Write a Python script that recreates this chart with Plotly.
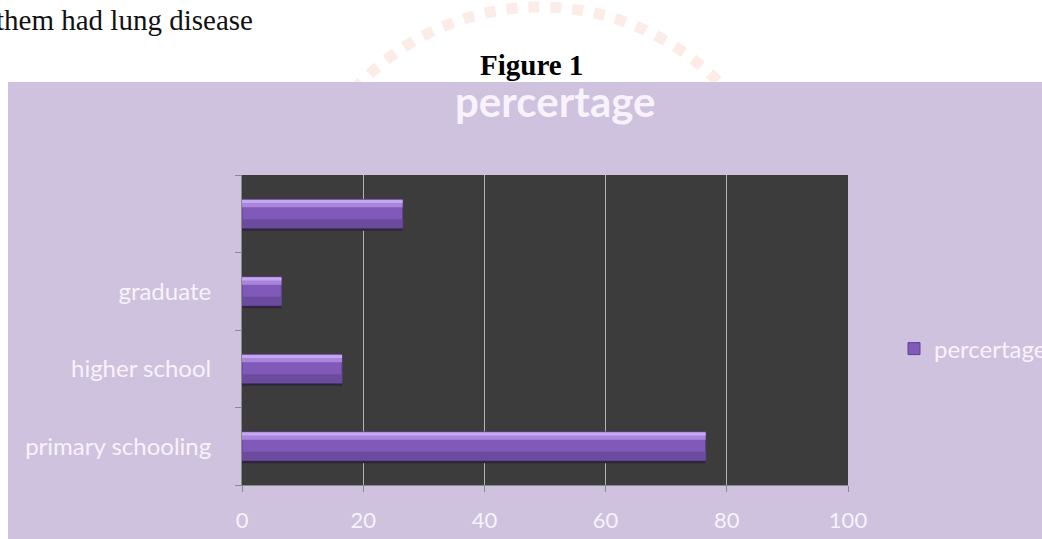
import plotly.graph_objects as go

categories = ["primary schooling", "higher school", "graduate", " "]
values = [76.5, 16.5, 6.5, 26.5]
x_ticks = [0, 20, 40, 60, 80, 100]
series_name = "percertage"

W_PX, H_PX = 1042, 539
L, R, T, B = 242, 194, 175, 54
PW = W_PX - L - R
PH = H_PX - T - B


def px(x):
    return (x - L) / PW


def py(y):
    return (H_PX - B - y) / PH


TXT = "#f7f2fb"
LAV = "#cfc2de"

fig = go.Figure()
# shadow
fig.add_trace(go.Bar(y=categories, x=values, orientation="h", width=0.40, offset=-0.22,
                     marker=dict(color="#2e2638", line_width=0), showlegend=False, hoverinfo="skip"))
# main bar
fig.add_trace(go.Bar(y=categories, x=values, orientation="h", width=0.37, offset=-0.185,
                     name=series_name,
                     marker=dict(color="#8059b9", line=dict(color="#5e4192", width=1))))
# lower darker band
fig.add_trace(go.Bar(y=categories, x=values, orientation="h", width=0.11, offset=-0.18,
                     marker=dict(color="#6a4b9e", line_width=0), showlegend=False, hoverinfo="skip"))
# top highlight
fig.add_trace(go.Bar(y=categories, x=values, orientation="h", width=0.09, offset=0.085,
                     marker=dict(color="#a886db", line_width=0), showlegend=False, hoverinfo="skip"))
fig.add_trace(go.Bar(y=categories, x=values, orientation="h", width=0.04, offset=0.14,
                     marker=dict(color="#c6a6f0", line_width=0), showlegend=False, hoverinfo="skip"))

shapes = [
    # watermark rope
    dict(type="circle", xref="paper", yref="paper", layer="below",
         x0=px(540 - 250), x1=px(540 + 250), y0=py(7 + 500), y1=py(7),
         line=dict(color="rgba(240,160,135,0.20)", width=11, dash="dot"), fillcolor="rgba(0,0,0,0)"),
    # chart area
    dict(type="rect", xref="paper", yref="paper", layer="below",
         x0=px(8), x1=px(1060), y0=py(560), y1=py(82),
         line_width=0, fillcolor=LAV),
    # plot area
    dict(type="rect", xref="x domain", yref="y domain", layer="below",
         x0=0, x1=1, y0=0, y1=1, line_width=0, fillcolor="#3d3c3d"),
]

annotations = [
    dict(text="them had lung disease", xref="paper", yref="paper", x=px(-6), y=py(20),
         xanchor="left", yanchor="middle", showarrow=False,
         font=dict(family="Liberation Serif", size=29, color="#111111")),
    dict(text="<b>Figure 1</b>", xref="paper", yref="paper", x=px(531), y=py(65),
         xanchor="center", yanchor="middle", showarrow=False,
         font=dict(family="Liberation Serif", size=29, color="#000000")),
    dict(text="<b>percertage</b>", xref="paper", yref="paper", x=px(555), y=py(101),
         xanchor="center", yanchor="middle", showarrow=False,
         font=dict(family="Lato", size=42, color=TXT)),
]

fig.update_layout(
    width=W_PX, height=H_PX,
    margin=dict(l=L, r=R, t=T, b=B, pad=0, autoexpand=False),
    paper_bgcolor="white",
    plot_bgcolor="rgba(0,0,0,0)",
    barmode="overlay",
    shapes=shapes,
    annotations=annotations,
    legend=dict(x=px(894), y=py(349), xanchor="left", yanchor="middle",
                font=dict(family="Lato", size=24, color=TXT), bgcolor="rgba(0,0,0,0)",
                itemclick=False),
    showlegend=True,
    xaxis=dict(range=[0, 100], tickvals=x_ticks, showgrid=True, gridcolor="#b4b4b4", gridwidth=1,
               zeroline=False, showline=True, linecolor="#8a8a8a", linewidth=1,
               ticks="outside", ticklen=6, tickcolor="#8a8a8a", ticklabelstandoff=10,
               tickfont=dict(family="Lato", size=22, color=TXT), fixedrange=True),
    yaxis=dict(type="category", categoryorder="array", categoryarray=categories,
               showgrid=False, zeroline=False, showline=True, linecolor="#8a8a8a", linewidth=1,
               ticks="outside", ticklen=6, tickcolor="#8a8a8a", tickson="boundaries",
               ticklabelstandoff=25,
               tickfont=dict(family="Lato", size=24, color=TXT), fixedrange=True),
)

fig.write_html("out.html")
